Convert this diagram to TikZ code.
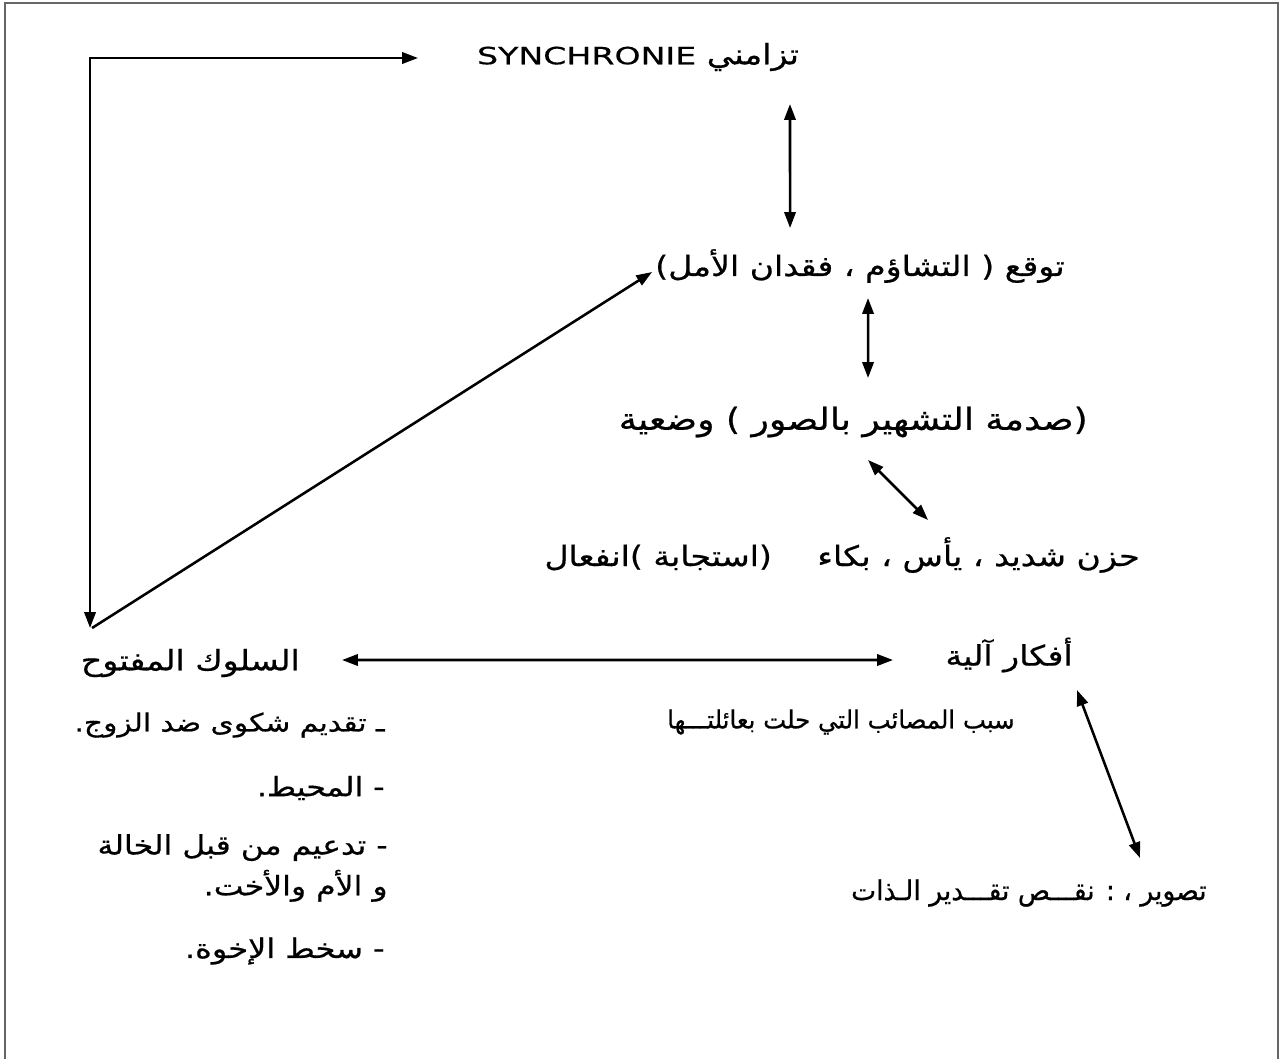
\documentclass[tikz,border=0pt]{standalone}
\usepackage{fontspec}
\setmainfont{DejaVu Sans}[FakeStretch=1.4,FakeBold=0.5]
\newfontfamily\arabicfont[Script=Arabic,FakeStretch=1.18,FakeBold=0.6]{DejaVu Sans}
\newfontfamily\arabicnarrow[Script=Arabic,FakeStretch=0.97,FakeBold=0.6]{DejaVu Sans}
\TeXXeTstate=1
\usetikzlibrary{arrows.meta}
\newcommand\ArTxt[1]{\beginR #1\endR}

\begin{document}
\begin{tikzpicture}[x=0.02cm, y=-0.02cm,
	txt/.style={inner sep=0pt, anchor=east, font=\arabicfont\fontsize{16}{19}\selectfont},
	taille/.style={font=\arabicfont\fontsize{#1}{23.2}\selectfont},
	etroit/.style={font=\arabicnarrow\fontsize{#1}{23.2}\selectfont},
	fl/.style={line width=1.45pt, -{Triangle[length=9pt,width=6.4pt]}},
	dfl/.style={fl, {Triangle[length=9pt,width=6.4pt]}-{Triangle[length=9pt,width=6.4pt]}}]
\useasboundingbox (0,0) rectangle (1282,1059);
\draw[black!60, line width=1pt] (5,1059) -- (5,3) -- (1278,3) -- (1278,1059);

\node[txt, anchor=center] (syn) at (638,57) {\fontsize{13.5}{16}\selectfont\normalfont SYNCHRONIE \arabicfont\fontsize{16}{19}\selectfont\ArTxt{تزامني}};
\node[txt] (attente) at (1065,266) {\ArTxt{توقع  ( التشاؤم ، فقدان الأمل)}};
\node[txt, taille=17.4] (choc) at (1088,422) {\ArTxt{(صدمة التشهير بالصور ) وضعية}};
\node[txt] (emotion) at (1140,555) {\ArTxt{حزن شديد ، يأس ، بكاء \hspace{0.7cm}(استجابة )انفعال}};
\node[txt] (conduite) at (300,663) {\ArTxt{السلوك المفتوح}};
\node[txt] (pensees) at (1073,655) {\ArTxt{أفكار آلية}};
\node[txt, etroit=14.3] (cause) at (1015,722) {\ArTxt{سبب المصائب التي حلت بعائلتـــها}};
\node[txt, etroit=15.6] (image) at (1207,893) {\ArTxt{تصوير ، : نقـــص تقـــدير الـذات}};

\node[txt, taille=14.3] (plainte) at (385,725) {\ArTxt{ـ تقديم شكوى ضد الزوج.}};
\node[txt, taille=15.2] (milieu) at (385,788) {\ArTxt{- المحيط.}};
\node[txt, taille=15.2, align=right] (soutien) at (388,868)
	{\ArTxt{- تدعيم من قبل الخالة}\\\ArTxt{و الأم والأخت.}};
\node[txt, taille=15.4] (freres) at (385,951) {\ArTxt{- سخط الإخوة.}};

\draw[dfl] ([xshift=-4.4cm,yshift=-0.02cm]syn.center) -| ([xshift=-4.2cm,yshift=0.7cm]conduite.east);
\draw[fl] ([xshift=-4.16cm,yshift=0.7cm]conduite.east) -- ([xshift=-8.26cm,yshift=-0.12cm]attente.east);
\draw[dfl] ([xshift=3.04cm,yshift=-0.94cm]syn.center) -- ([xshift=-5.5cm,yshift=0.76cm]attente.east);
\draw[dfl] ([xshift=-3.94cm,yshift=-0.64cm]attente.east) -- ([xshift=-4.4cm,yshift=0.88cm]choc.east);
\draw[dfl] ([xshift=-4.4cm,yshift=-0.76cm]choc.east) -- ([xshift=-4.24cm,yshift=0.7cm]emotion.east);
\draw[dfl] ([xshift=0.84cm,yshift=0.06cm]conduite.east) -- ([xshift=-3.6cm,yshift=-0.1cm]pensees.east);
\draw[dfl] ([xshift=0.08cm,yshift=-0.7cm]pensees.east) -- ([xshift=-1.34cm,yshift=0.7cm]image.east);
\end{tikzpicture}
\end{document}
